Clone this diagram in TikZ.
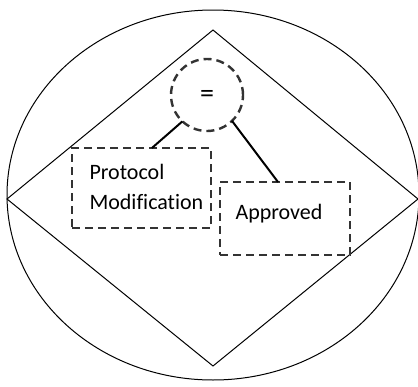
\documentclass[tikz,border=0pt]{standalone}
\usepackage{fontspec}
\setmainfont{Carlito}[Ligatures=NoCommon]
\usetikzlibrary{shapes.geometric,calc}
\begin{document}
\begin{tikzpicture}[x=1pt,y=-1pt,
  outline/.style={draw=black,line width=1pt,inner sep=0pt,outer sep=0pt},
  dashbox/.style={draw=black!80,line width=2.4pt,dash pattern=on 8pt off 5pt,
    inner sep=0pt,outer sep=0pt},
  link/.style={draw=black,line width=2pt},
  lbl/.style={font=\fontsize{22}{30}\selectfont,text=black}]
\useasboundingbox (0,0) rectangle (418,386);
% outer frame
\node[outline,ellipse,minimum width=412pt,minimum height=370pt] (frame) at (213,195) {};
\coordinate (top) at (213,30);
\coordinate (rgt) at (418,199);
\coordinate (bot) at (213,366);
\coordinate (lft) at (7,199);
\draw[line width=1pt,line join=miter] (top) -- (rgt) -- (bot) -- (lft) -- cycle;
% operator
\node[dashbox,circle,minimum size=72pt] (op) at (207,95) {};
\node[lbl,font=\fontsize{28}{30}\selectfont] (eq) at (207,96) {=};
% operands
\node[dashbox,minimum width=139pt,minimum height=80pt] (pm) at (141.5,188) {};
\node[lbl,align=left,anchor=west] (pmtxt) at (86,187) {Protocol\\Modification};
\node[dashbox,minimum width=130pt,minimum height=73pt] (ap) at (285,218.5) {};
\node[lbl,anchor=west] (aptxt) at (232,214) {Approved};
% links
\draw[link] (op.227) -- ($(pm.north west)!0.575!(pm.north east)$);
\draw[link] (op.314) -- ($(ap.north west)!0.446!(ap.north east)$);
\end{tikzpicture}
\end{document}
